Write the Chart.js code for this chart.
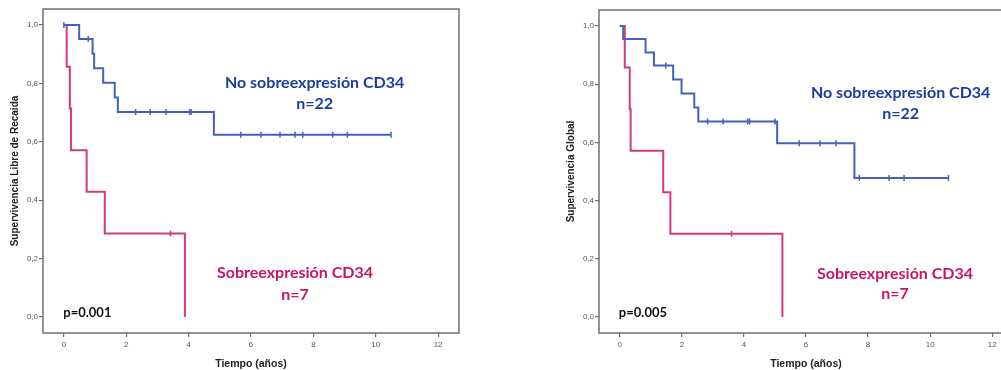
<!DOCTYPE html>
<html>
<head>
<meta charset="utf-8">
<script src="https://cdn.jsdelivr.net/npm/chart.js@4/dist/chart.umd.min.js"></script>
<style>
  html, body { margin: 0; padding: 0; background: #fff; overflow: hidden; }
  body { width: 1001px; height: 370px; position: relative; }
  canvas { position: absolute; top: 0; }
  #rfs { left: 0; }
  #os { left: 556px; }
</style>
</head>
<body>
<canvas id="rfs" width="470" height="370"></canvas>
<canvas id="os" width="468" height="370"></canvas>
<script>
// ticks
const xTickValues = [0, 2, 4, 6, 8, 10, 12]
const yTickValues = [0, 0.2, 0.4, 0.6, 0.8, 1.0]

// Supervivencia Libre de Recaida - no sobreexpresion (n=22)
const rfsNoTimes = [0, 0.49, 0.92, 0.97, 1.26, 1.63, 1.73, 4.81, 10.49]
const rfsNoSurv = [1, 0.952, 0.902, 0.852, 0.802, 0.752, 0.702, 0.624, 0.624]
const rfsNoCensTimes = [0, 0.78, 2.30, 2.77, 3.27, 4.03, 4.08, 5.67, 6.32, 6.93, 7.41, 7.66, 8.62, 9.09, 10.49]
const rfsNoCensSurv = [1, 0.952, 0.702, 0.702, 0.702, 0.702, 0.702, 0.624, 0.624, 0.624, 0.624, 0.624, 0.624, 0.624, 0.624]
// sobreexpresion (n=7)
const rfsSiTimes = [0, 0.09, 0.19, 0.23, 0.73, 1.31, 3.88]
const rfsSiSurv = [1, 0.857, 0.714, 0.571, 0.429, 0.286, 0]
const rfsSiCensTimes = [3.42]
const rfsSiCensSurv = [0.286]

// Supervivencia Global - no sobreexpresion (n=22)
const osNoTimes = [0, 0.11, 0.83, 1.10, 1.72, 1.99, 2.40, 2.53, 5.07, 7.56, 10.59]
const osNoSurv = [1, 0.955, 0.909, 0.864, 0.816, 0.768, 0.720, 0.672, 0.597, 0.478, 0.478]
const osNoCensTimes = [1.48, 2.83, 3.33, 4.12, 4.18, 5.00, 5.78, 6.45, 6.97, 7.72, 8.68, 9.16, 10.59]
const osNoCensSurv = [0.864, 0.672, 0.672, 0.672, 0.672, 0.672, 0.597, 0.597, 0.597, 0.478, 0.478, 0.478, 0.478]
// sobreexpresion (n=7)
const osSiTimes = [0, 0.16, 0.32, 0.35, 1.40, 1.63, 5.24]
const osSiSurv = [1, 0.857, 0.714, 0.571, 0.429, 0.286, 0]
const osSiCensTimes = [3.60]
const osSiCensSurv = [0.286]

const BLUE = "#4560bf"
const PINK = "#d23a80"
const BLUE_TXT = "#1d3c9e"
const PINK_TXT = "#c8146c"
const FRAME = "#707070"

const pts = (xs, ys) => xs.map((x, i) => ({ x: x, y: ys[i] }))

// frame around the plot area
const framePlugin = {
  id: "frame",
  afterDraw(chart) {
    const a = chart.chartArea
    const ctx = chart.ctx
    ctx.save()
    ctx.strokeStyle = FRAME
    ctx.lineWidth = 1.5
    ctx.strokeRect(a.left, a.top, a.right - a.left, a.bottom - a.top)
    ctx.restore()
  },
}

// text labels placed in data units
const labelsPlugin = {
  id: "labels",
  afterDatasetsDraw(chart, args, opts) {
    const ctx = chart.ctx
    const xs = chart.scales.x
    const ys = chart.scales.y
    ctx.save()
    opts.items.forEach((it) => {
      ctx.font = it.font
      ctx.fillStyle = it.color
      ctx.textAlign = it.align || "center"
      ctx.textBaseline = "middle"
      ctx.fillText(it.text, xs.getPixelForValue(it.x), ys.getPixelForValue(it.y))
    })
    ctx.restore()
  },
}

function kmChart(id, yTitle, curves, labels, topPad) {
  const datasets = []
  curves.forEach((c) => {
    datasets.push({
      type: "line",
      data: pts(c.times, c.surv),
      borderColor: c.color,
      borderWidth: 2,
      stepped: "before",
      pointRadius: 0,
      fill: false,
    })
    datasets.push({
      type: "scatter",
      data: pts(c.censT, c.censS),
      pointStyle: "line",
      rotation: 90,
      pointRadius: 3,
      borderColor: c.color,
      borderWidth: 1.5,
    })
  })

  new Chart(document.getElementById(id), {
    data: { datasets: datasets },
    plugins: [framePlugin, labelsPlugin],
    options: {
      responsive: false,
      animation: false,
      layout: { padding: { top: topPad, right: 11, left: 0, bottom: 0 } },
      plugins: {
        legend: { display: false },
        tooltip: { enabled: false },
        labels: { items: labels },
      },
      scales: {
        x: {
          type: "linear",
          min: -0.67,
          max: 12.67,
          afterBuildTicks: (s) => { s.ticks = xTickValues.map((v) => ({ value: v })) },
          afterFit: (s) => { s.height = 37 },
          ticks: { color: "#555", font: { family: "Liberation Sans", size: 8 }, padding: 3 },
          grid: { drawOnChartArea: false, tickLength: 4, tickColor: FRAME, lineWidth: 1.2 },
          border: { display: false },
          title: {
            display: true,
            text: "Tiempo (años)",
            color: "#222",
            font: { family: "Liberation Sans", size: 10.5, weight: "bold" },
            padding: { top: 0, bottom: 0 },
          },
        },
        y: {
          type: "linear",
          min: -0.055,
          max: 1.055,
          afterBuildTicks: (s) => { s.ticks = yTickValues.map((v) => ({ value: v })) },
          afterFit: (s) => { s.width = 43 },
          ticks: {
            color: "#555",
            font: { family: "Liberation Sans", size: 8 },
            padding: 1,
            callback: (v) => v.toFixed(1).replace(".", ","),
          },
          grid: { drawOnChartArea: false, tickLength: 4, tickColor: FRAME, lineWidth: 1.2 },
          border: { display: false },
          title: {
            display: true,
            text: yTitle,
            color: "#222",
            font: { family: "Liberation Sans", size: 10, weight: "bold" },
            padding: { top: 9, bottom: 4 },
          },
        },
      },
    },
  })
}

const bigFont = "bold 16px Lato"
const pFont = "bold 13px Lato"

kmChart("rfs", "Supervivencia Libre de Recaida", [
  { times: rfsNoTimes, surv: rfsNoSurv, censT: rfsNoCensTimes, censS: rfsNoCensSurv, color: BLUE },
  { times: rfsSiTimes, surv: rfsSiSurv, censT: rfsSiCensTimes, censS: rfsSiCensSurv, color: PINK },
], [
  { text: "No sobreexpresión CD34", x: 8.04, y: 0.803, font: bigFont, color: BLUE_TXT },
  { text: "n=22", x: 8.04, y: 0.729, font: bigFont, color: BLUE_TXT },
  { text: "Sobreexpresión CD34", x: 7.41, y: 0.150, font: bigFont, color: PINK_TXT },
  { text: "n=7", x: 7.41, y: 0.075, font: bigFont, color: PINK_TXT },
  { text: "p=0.001", x: -0.02, y: 0.013, font: pFont, color: "#111", align: "left" },
], 9)

kmChart("os", "Supervivencia Global", [
  { times: osNoTimes, surv: osNoSurv, censT: osNoCensTimes, censS: osNoCensSurv, color: BLUE },
  { times: osSiTimes, surv: osSiSurv, censT: osSiCensTimes, censS: osSiCensSurv, color: PINK },
], [
  { text: "No sobreexpresión CD34", x: 9.05, y: 0.769, font: bigFont, color: BLUE_TXT },
  { text: "n=22", x: 9.05, y: 0.698, font: bigFont, color: BLUE_TXT },
  { text: "Sobreexpresión CD34", x: 8.87, y: 0.150, font: bigFont, color: PINK_TXT },
  { text: "n=7", x: 8.87, y: 0.079, font: bigFont, color: PINK_TXT },
  { text: "p=0.005", x: -0.03, y: 0.014, font: pFont, color: "#111", align: "left" },
], 10)
</script>
</body>
</html>
